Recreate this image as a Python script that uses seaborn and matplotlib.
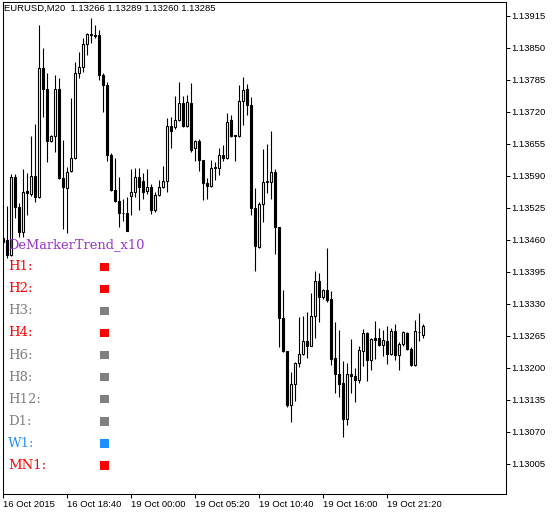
import numpy as np
import matplotlib
matplotlib.use("Agg")
import matplotlib.pyplot as plt
import seaborn as sns

# EURUSD M20 bars
opens = [
    1.13463, 1.13459, 1.13430, 1.13588, 1.13526, 1.13475, 1.13560, 1.13552, 1.13590, 1.13546,
    1.13809, 1.13767, 1.13661, 1.13671, 1.13767, 1.13586, 1.13566, 1.13600, 1.13627, 1.13799,
    1.13811, 1.13858, 1.13875, 1.13876, 1.13876, 1.13795, 1.13775, 1.13633, 1.13562, 1.13538,
    1.13515, 1.13514, 1.13548, 1.13558, 1.13588, 1.13580, 1.13560, 1.13568, 1.13520, 1.13550,
    1.13568, 1.13580, 1.13692, 1.13688, 1.13704, 1.13738, 1.13690, 1.13738, 1.13647, 1.13661,
    1.13621, 1.13576, 1.13570, 1.13607, 1.13605, 1.13633, 1.13627, 1.13704, 1.13673, 1.13671,
    1.13742, 1.13767, 1.13734, 1.13524, 1.13445, 1.13532, 1.13578, 1.13578, 1.13598, 1.13487,
    1.13301, 1.13234, 1.13125, 1.13167, 1.13210, 1.13228, 1.13254, 1.13244, 1.13305, 1.13376,
    1.13343, 1.13358, 1.13339, 1.13220, 1.13187, 1.13169, 1.13096, 1.13187, 1.13183, 1.13175,
    1.13234, 1.13270, 1.13216, 1.13260, 1.13260, 1.13246, 1.13254, 1.13228, 1.13274, 1.13226,
    1.13248, 1.13270, 1.13238, 1.13206, 1.13272, 1.13266]
highs = [
    1.13465, 1.13528, 1.13594, 1.13594, 1.13534, 1.13603, 1.13596, 1.13671, 1.13696, 1.13896,
    1.13850, 1.13799, 1.13673, 1.13795, 1.13789, 1.13663, 1.13607, 1.13748, 1.13821, 1.13842,
    1.13870, 1.13880, 1.13910, 1.13896, 1.13886, 1.13799, 1.13781, 1.13637, 1.13627, 1.13588,
    1.13542, 1.13546, 1.13603, 1.13605, 1.13605, 1.13596, 1.13603, 1.13574, 1.13558, 1.13582,
    1.13609, 1.13708, 1.13710, 1.13752, 1.13781, 1.13752, 1.13754, 1.13779, 1.13663, 1.13665,
    1.13621, 1.13586, 1.13621, 1.13617, 1.13647, 1.13653, 1.13718, 1.13714, 1.13673, 1.13775,
    1.13791, 1.13777, 1.13750, 1.13566, 1.13536, 1.13645, 1.13655, 1.13680, 1.13603, 1.13487,
    1.13358, 1.13234, 1.13191, 1.13212, 1.13303, 1.13305, 1.13313, 1.13351, 1.13396, 1.13392,
    1.13360, 1.13443, 1.13356, 1.13293, 1.13277, 1.13214, 1.13210, 1.13258, 1.13200, 1.13244,
    1.13279, 1.13272, 1.13260, 1.13295, 1.13281, 1.13277, 1.13285, 1.13281, 1.13289, 1.13252,
    1.13274, 1.13272, 1.13242, 1.13297, 1.13311, 1.13289]
lows = [
    1.13451, 1.13424, 1.13428, 1.13505, 1.13465, 1.13465, 1.13511, 1.13548, 1.13536, 1.13544,
    1.13710, 1.13617, 1.13659, 1.13639, 1.13584, 1.13481, 1.13473, 1.13598, 1.13625, 1.13789,
    1.13801, 1.13835, 1.13860, 1.13870, 1.13785, 1.13720, 1.13619, 1.13560, 1.13536, 1.13487,
    1.13499, 1.13477, 1.13511, 1.13546, 1.13520, 1.13542, 1.13552, 1.13513, 1.13517, 1.13548,
    1.13566, 1.13558, 1.13647, 1.13684, 1.13702, 1.13688, 1.13688, 1.13639, 1.13619, 1.13600,
    1.13540, 1.13542, 1.13568, 1.13582, 1.13592, 1.13619, 1.13625, 1.13669, 1.13619, 1.13669,
    1.13694, 1.13714, 1.13511, 1.13396, 1.13443, 1.13497, 1.13556, 1.13542, 1.13432, 1.13242,
    1.13232, 1.13121, 1.13090, 1.13133, 1.13202, 1.13226, 1.13220, 1.13244, 1.13260, 1.13293,
    1.13339, 1.13333, 1.13206, 1.13149, 1.13141, 1.13060, 1.13084, 1.13149, 1.13131, 1.13169,
    1.13204, 1.13173, 1.13196, 1.13218, 1.13244, 1.13224, 1.13208, 1.13226, 1.13216, 1.13196,
    1.13244, 1.13236, 1.13204, 1.13204, 1.13254, 1.13260]
closes = [
    1.13455, 1.13430, 1.13588, 1.13526, 1.13475, 1.13558, 1.13554, 1.13590, 1.13546, 1.13809,
    1.13767, 1.13661, 1.13671, 1.13767, 1.13586, 1.13568, 1.13598, 1.13627, 1.13799, 1.13811,
    1.13858, 1.13878, 1.13878, 1.13874, 1.13795, 1.13775, 1.13633, 1.13562, 1.13538, 1.13515,
    1.13514, 1.13477, 1.13558, 1.13588, 1.13568, 1.13558, 1.13568, 1.13520, 1.13550, 1.13568,
    1.13580, 1.13692, 1.13681, 1.13704, 1.13738, 1.13690, 1.13740, 1.13643, 1.13661, 1.13621,
    1.13576, 1.13570, 1.13605, 1.13605, 1.13633, 1.13627, 1.13700, 1.13671, 1.13671, 1.13742,
    1.13765, 1.13734, 1.13524, 1.13447, 1.13532, 1.13578, 1.13579, 1.13598, 1.13487, 1.13301,
    1.13234, 1.13125, 1.13167, 1.13210, 1.13228, 1.13254, 1.13244, 1.13305, 1.13376, 1.13343,
    1.13358, 1.13337, 1.13218, 1.13187, 1.13167, 1.13096, 1.13187, 1.13183, 1.13175, 1.13236,
    1.13270, 1.13216, 1.13258, 1.13256, 1.13246, 1.13256, 1.13228, 1.13274, 1.13226, 1.13248,
    1.13272, 1.13238, 1.13206, 1.13274, 1.13273, 1.13285]

price_ticks = [1.13005, 1.13070, 1.13135, 1.13200, 1.13265, 1.13330, 1.13395, 1.13460,
               1.13525, 1.13590, 1.13655, 1.13720, 1.13785, 1.13850, 1.13915]
time_labels = ["16 Oct 2015", "16 Oct 18:40", "19 Oct 00:00", "19 Oct 05:20",
               "19 Oct 10:40", "19 Oct 16:00", "19 Oct 21:20"]
time_label_bars = [0, 16, 32, 48, 64, 80, 96]

header = "EURUSD,M20  1.13266 1.13289 1.13260 1.13285"
indicator_name = "DeMarkerTrend_x10"
timeframes = ["H1", "H2", "H3", "H4", "H6", "H8", "H12", "D1", "W1", "MN1"]
trend = ["sell", "sell", "none", "sell", "none", "none", "none", "none", "buy", "sell"]
trend_colors = {"sell": "#FF0000", "none": "#808080", "buy": "#1E90FF"}

sns.set_style("white")
plt.rcParams["font.family"] = ["Liberation Sans", "DejaVu Sans"]

fig = plt.figure(figsize=(5.58, 5.13), dpi=100)
ax = fig.add_axes([2.5 / 558, 19 / 513, 504 / 558, 491.5 / 513])

o = np.array(opens)
h = np.array(highs)
l = np.array(lows)
c = np.array(closes)
bars = np.arange(len(o))
bull = c > o

# wicks then bodies
ax.vlines(bars, l, h, color="black", lw=0.8, zorder=2)
ax.bar(bars, np.abs(c - o), bottom=np.minimum(o, c), width=0.5,
       color=np.where(bull, "white", "black"), edgecolor="black",
       linewidth=0.8, zorder=3)

ax.set_xlim(-0.1, 125.9)
ax.set_ylim(1.12944, 1.139417)
ax.yaxis.tick_right()
ax.set_yticks(price_ticks)
ax.set_yticklabels([f"{p:.5f}" for p in price_ticks])
ax.set_xticks(time_label_bars)
ax.set_xticklabels(time_labels, ha="left")
ax.tick_params(axis="both", direction="out", length=2.9, width=0.75,
               color="black", labelsize=6.8, labelcolor="black")
ax.tick_params(axis="y", pad=0.8, right=True, left=False)
ax.tick_params(axis="x", pad=1.5, bottom=True)
for sp in ax.spines.values():
    sp.set_color("black")
    sp.set_linewidth(0.75)

# overlay in pixel coords for header and indicator panel
panel = fig.add_axes([0, 0, 1, 1], zorder=5)
row_y = [266.7 + 22.1 * i for i in range(len(timeframes))]
sns.scatterplot(x=[104.5] * len(timeframes), y=row_y, hue=trend, palette=trend_colors,
                marker="s", s=36, linewidth=0, legend=False, ax=panel)
panel.set_xlim(0, 558)
panel.set_ylim(513, 0)
panel.axis("off")

panel.text(3.5, 8.3, header, fontsize=6.8, va="center", color="black")
panel.text(8.5, 245, indicator_name, fontsize=9.4, family="DejaVu Serif",
           color="#9932CC", va="center")
for tf, tr, y in zip(timeframes, trend, row_y):
    panel.text(8, y, tf + ":", fontsize=9.5, family="DejaVu Serif",
               color=trend_colors[tr], va="center")

fig.savefig("out.png", dpi=100)
